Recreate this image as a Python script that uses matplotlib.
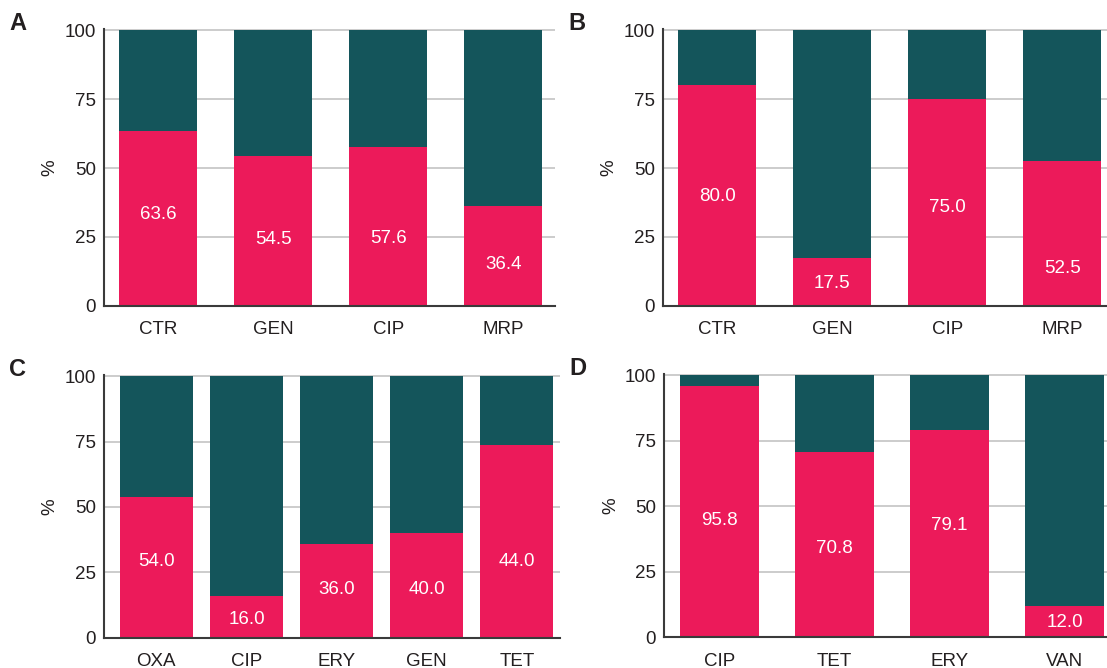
import matplotlib.pyplot as plt
import numpy as np

plt.rcParams['font.family'] = ['Liberation Sans', 'DejaVu Sans']

PINK = '#EC1A5A'
TEAL = '#14555B'

# panel A
a_cats = ['CTR', 'GEN', 'CIP', 'MRP']
a_vals = [63.6, 54.5, 57.6, 36.4]
a_labels = ['63.6', '54.5', '57.6', '36.4']
a_label_y = [33, 24, 24.5, 15]

# panel B
b_cats = ['CTR', 'GEN', 'CIP', 'MRP']
b_vals = [80.0, 17.5, 75.0, 52.5]
b_labels = ['80.0', '17.5', '75.0', '52.5']
b_label_y = [39.5, 8.3, 35.7, 13.7]

# panel C (TET bar drawn at ~73.5 in the original though labelled 44.0)
c_cats = ['OXA', 'CIP', 'ERY', 'GEN', 'TET']
c_vals = [54.0, 16.0, 36.0, 40.0, 73.5]
c_labels = ['54.0', '16.0', '36.0', '40.0', '44.0']
c_label_y = [29.3, 7.2, 18.6, 18.6, 29.3]

# panel D
d_cats = ['CIP', 'TET', 'ERY', 'VAN']
d_vals = [95.8, 70.8, 79.1, 12.0]
d_labels = ['95.8', '70.8', '79.1', '12.0']
d_label_y = [44.5, 33.8, 42.6, 5.7]


def draw_panel(fig, rect, letter, cats, vals, labels, label_y, width, xlim):
    ax = fig.add_axes(rect)
    x = np.arange(len(cats))
    vals = np.array(vals)
    ax.bar(x, vals, width=width, color=PINK, zorder=2)
    ax.bar(x, 100 - vals, bottom=vals, width=width, color=TEAL, zorder=2)
    for xi, lab, ly in zip(x, labels, label_y):
        ax.text(xi, ly, lab, color='white', ha='center', va='center', fontsize=13.5, zorder=3)
    ax.set_xlim(*xlim)
    ax.set_ylim(0, 100.5)
    ax.set_yticks([0, 25, 50, 75, 100])
    ax.set_xticks(x)
    ax.set_xticklabels(cats)
    ax.tick_params(axis='both', length=0, labelsize=13.5, colors='#231f20')
    ax.tick_params(axis='y', pad=6)
    ax.tick_params(axis='x', pad=11)
    ax.yaxis.grid(True, color='#c8c8c8', linewidth=1.3, zorder=0)
    ax.set_axisbelow(True)
    for s in ['top', 'right']:
        ax.spines[s].set_visible(False)
    for s in ['left', 'bottom']:
        ax.spines[s].set_color('#3a3a3a')
        ax.spines[s].set_linewidth(1.5)
    ax.set_ylabel('%', fontsize=13.5, color='#231f20', labelpad=4)
    pos = ax.get_position()
    fig.text(pos.x0 - 0.078, pos.y1 + 0.008, letter, fontsize=17, fontweight='bold',
             ha='center', va='center', color='#231f20')
    return ax


fig = plt.figure(figsize=(11.07, 6.68), dpi=100)

draw_panel(fig, [0.094, 0.542, 0.4074, 0.415], 'A', a_cats, a_vals, a_labels, a_label_y,
           0.68, (-0.47, 3.45))
draw_panel(fig, [0.599, 0.542, 0.4074, 0.415], 'B', b_cats, b_vals, b_labels, b_label_y,
           0.68, (-0.47, 3.45))
draw_panel(fig, [0.094, 0.045, 0.412, 0.394], 'C', c_cats, c_vals, c_labels, c_label_y,
           0.81, (-0.58, 4.48))
draw_panel(fig, [0.600, 0.046, 0.4074, 0.394], 'D', d_cats, d_vals, d_labels, d_label_y,
           0.68, (-0.48, 3.44))

fig.savefig('out.png', dpi=100)
